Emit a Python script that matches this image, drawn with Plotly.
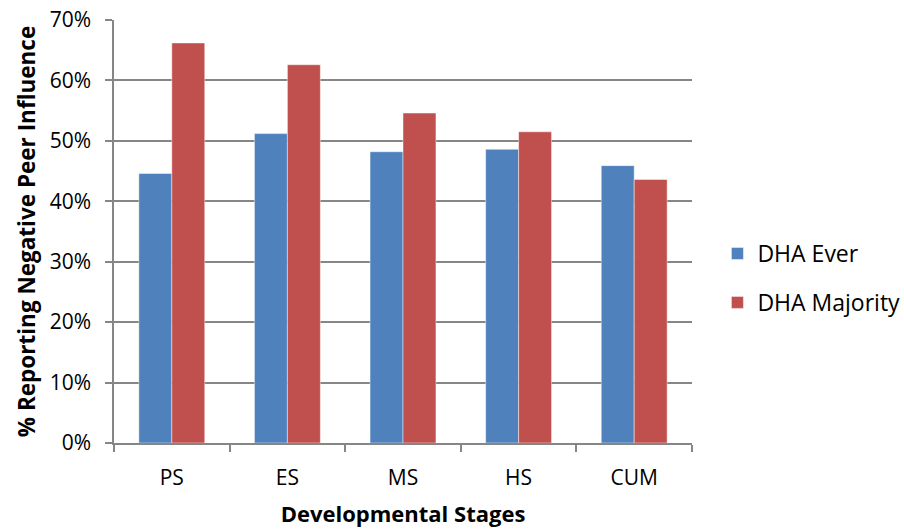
import plotly.graph_objects as go

# Developmental stages and share of respondents reporting negative peer influence
stages = ["PS", "ES", "MS", "HS", "CUM"]
dha_ever = [0.446, 0.512, 0.482, 0.486, 0.459]
dha_majority = [0.662, 0.626, 0.546, 0.515, 0.436]

y_ticks = [0, 0.1, 0.2, 0.3, 0.4, 0.5, 0.6, 0.7]

FONT = "Open Sans"
GRID = "#868686"

fig = go.Figure()
fig.add_trace(go.Bar(
    x=stages, y=dha_ever, name="DHA Ever", legendgroup="a",
    marker=dict(color="#4F81BD", line=dict(color="rgba(255,255,255,0.45)", width=1)),
))
fig.add_trace(go.Bar(
    x=stages, y=dha_majority, name="DHA Majority", legendgroup="b",
    marker=dict(color="#C0504D", line=dict(color="rgba(255,255,255,0.45)", width=1)),
))

fig.update_layout(
    width=904, height=531,
    margin=dict(l=114, r=212, t=20, b=88, autoexpand=False),
    paper_bgcolor="white", plot_bgcolor="white",
    barmode="group", bargap=0.43, bargroupgap=0,
    font=dict(family=FONT, color="black"),
    showlegend=True,
    legend=dict(
        x=1.044, y=0.39, xanchor="left", yanchor="middle",
        font=dict(family=FONT, size=23, color="black"),
        tracegroupgap=16, itemwidth=30,
    ),
    xaxis=dict(
        type="category", range=[-0.5, 4.5],
        showline=True, linecolor=GRID, linewidth=1.5,
        ticks="outside", tickson="boundaries", ticklen=7, tickcolor=GRID, tickwidth=1.5,
        tickfont=dict(family=FONT, size=21, color="black"),
        ticklabelstandoff=15,
        showgrid=False,
        title=dict(text="<b>Developmental Stages</b>", font=dict(family=FONT, size=22, color="black"), standoff=17),
    ),
    yaxis=dict(
        range=[0, 0.7], tickvals=y_ticks, tickformat=".0%",
        showline=True, linecolor=GRID, linewidth=1.5,
        ticks="outside", ticklen=7, tickcolor=GRID, tickwidth=1.5,
        showgrid=True, gridcolor=GRID, gridwidth=1.5,
        zeroline=False,
        ticklabelstandoff=10,
        tickfont=dict(family=FONT, size=21, color="black"),
        title=dict(text="<b>% Reporting Negative Peer Influence</b>", font=dict(family=FONT, size=22.5, color="black"), standoff=8),
    ),
)

fig.write_html("out.html")
